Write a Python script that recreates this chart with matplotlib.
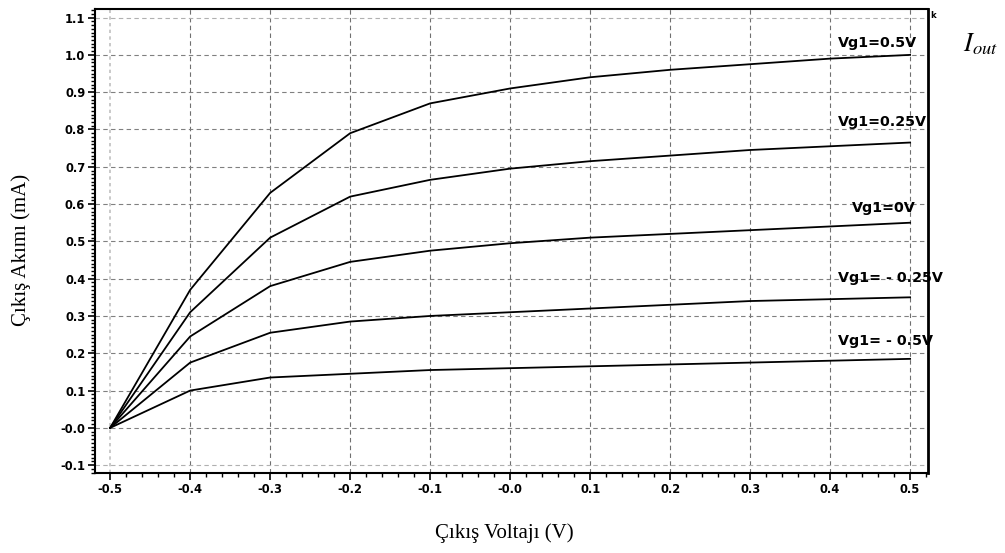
import numpy as np
import matplotlib.pyplot as plt
from matplotlib.ticker import MultipleLocator, FuncFormatter

# output voltage (V)
vout = [-0.5, -0.4, -0.3, -0.2, -0.1, 0.0, 0.1, 0.2, 0.3, 0.4, 0.5]

# output current (mA) for each Vg1
i_05 = [0.0, 0.37, 0.63, 0.79, 0.87, 0.91, 0.94, 0.96, 0.975, 0.99, 1.0]
i_025 = [0.0, 0.31, 0.51, 0.62, 0.665, 0.695, 0.715, 0.73, 0.745, 0.755, 0.765]
i_0 = [0.0, 0.245, 0.38, 0.445, 0.475, 0.495, 0.51, 0.52, 0.53, 0.54, 0.55]
i_m025 = [0.0, 0.175, 0.255, 0.285, 0.30, 0.31, 0.32, 0.33, 0.34, 0.345, 0.35]
i_m05 = [0.0, 0.10, 0.135, 0.145, 0.155, 0.16, 0.165, 0.17, 0.175, 0.18, 0.185]

curves = [i_05, i_025, i_0, i_m025, i_m05]
labels = ['Vg1=0.5V', 'Vg1=0.25V', 'Vg1=0V', 'Vg1= - 0.25V', 'Vg1= - 0.5V']
label_pos = [(0.41, 1.032), (0.41, 0.82), (0.4275, 0.59), (0.41, 0.402), (0.41, 0.233)]

xgrid = [-0.5, -0.4, -0.3, -0.2, -0.1, 0.0, 0.1, 0.2, 0.3, 0.4, 0.5]
ygrid = [-0.1, 0.0, 0.1, 0.2, 0.3, 0.4, 0.5, 0.6, 0.7, 0.8, 0.9, 1.0, 1.1]

plt.rcParams['mathtext.fontset'] = 'stix'

fig = plt.figure(figsize=(10.05, 5.53), dpi=100)
ax = fig.add_axes([0.0945, 0.1447, 0.829, 0.839])

# grid (first vertical and outer horizontal lines are lighter)
for x in xgrid:
    if x == xgrid[0]:
        ax.axvline(x, color='#c0c0c0', ls=(0, (2, 2)), lw=1.2, zorder=0)
    else:
        ax.axvline(x, color='#707070', ls=(0, (4, 3)), lw=0.8, zorder=0)
for y in ygrid:
    c = '#b0b0b0' if y in (ygrid[0], ygrid[-1]) else '#808080'
    ax.axhline(y, color=c, ls=(0, (4, 3)), lw=0.8, zorder=0)

for c in curves:
    ax.plot(vout, c, color='black', lw=1.3)

for lab, (x, y) in zip(labels, label_pos):
    ax.text(x, y, lab, ha='left', va='center', fontsize=10.3, fontweight='bold',
            family='DejaVu Sans')

ax.set_xlim(-0.519, 0.5225)
ax.set_ylim(-0.121, 1.123)

ax.xaxis.set_major_locator(MultipleLocator(0.1))
ax.xaxis.set_minor_locator(MultipleLocator(0.02))
ax.yaxis.set_major_locator(MultipleLocator(0.1))
ax.yaxis.set_minor_locator(MultipleLocator(0.01))


def fmt(v, pos):
    s = '%.1f' % v
    if abs(v) < 1e-9:
        s = '-0.0'
    return s


ax.xaxis.set_major_formatter(FuncFormatter(fmt))
ax.yaxis.set_major_formatter(FuncFormatter(fmt))

ax.tick_params(which='major', direction='out', length=5, width=1.2,
               labelsize=8.3, pad=2)
ax.tick_params(which='minor', direction='out', length=3, width=1)
for t in ax.get_xticklabels() + ax.get_yticklabels():
    t.set_fontweight('bold')

for sp in ax.spines.values():
    sp.set_linewidth(1.5)
ax.spines['right'].set_linewidth(2)

fig.text(0.021, 0.548, 'Çıkış Akımı (mA)', rotation=90, ha='center', va='center',
         family='Liberation Serif', fontsize=15)
fig.text(0.502, 0.036, 'Çıkış Voltajı (V)', ha='center', va='center',
         family='Liberation Serif', fontsize=15)
fig.text(0.976, 0.919, r'$I_{out}$', ha='center', va='center', fontsize=19)
fig.text(0.928, 0.972, 'k', ha='center', va='center', fontsize=6, fontweight='bold')

fig.savefig('out.png', dpi=100)
